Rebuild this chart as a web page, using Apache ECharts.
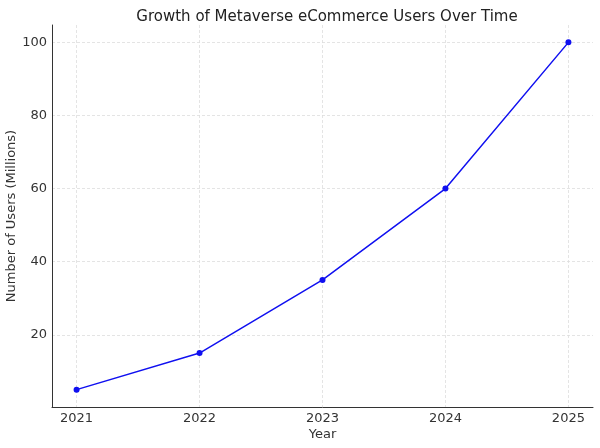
<!DOCTYPE html>
<html>
<head>
<meta charset="utf-8">
<script src="https://cdn.jsdelivr.net/npm/echarts@6/dist/echarts.min.js"></script>
<style>
    html, body { margin: 0; padding: 0; background: #fff; }
    #chart { width: 600px; height: 448px; }
</style>
</head>
<body>
<div id="chart"></div>
<script>
var years = [2021, 2022, 2023, 2024, 2025];
var users = [5, 15, 35, 60, 100];
var yTicks = [20, 40, 60, 80, 100];

var chartDom = document.getElementById('chart');
var myChart = echarts.init(chartDom);
var option;

var font = 'DejaVu Sans';

option = {
    animation: false,
    title: {
        text: 'Growth of Metaverse eCommerce Users Over Time',
        left: 322,
        top: 5,
        textAlign: 'center',
        textStyle: { fontFamily: font, fontSize: 15, fontWeight: 'normal', color: '#222' }
    },
    grid: { left: 52, right: 7, top: 25, bottom: 41, containLabel: false, outerBoundsMode: 'none' },
    xAxis: {
        type: 'value',
        min: 2020.8,
        max: 2025.2,
        name: 'Year',
        nameLocation: 'middle',
        nameGap: 21,
        nameMoveOverlap: false,
        nameTextStyle: { fontFamily: font, fontSize: 13, color: '#333' },
        axisLine: { lineStyle: { color: '#333', width: 1 } },
        axisTick: { show: false, customValues: years },
        axisLabel: {
            customValues: years,
            fontFamily: font, fontSize: 13, color: '#333', margin: 5,
            formatter: function (v) { return String(v); }
        },
        splitLine: { show: true, lineStyle: { color: '#ddd', type: [3, 2], width: 0.8 } }
    },
    yAxis: {
        type: 'value',
        min: 0.25,
        max: 104.75,
        name: 'Number of Users (Millions)',
        nameLocation: 'middle',
        nameGap: 34,
        nameMoveOverlap: false,
        nameTextStyle: { fontFamily: font, fontSize: 13, color: '#333' },
        axisLine: { show: true, lineStyle: { color: '#333', width: 1 } },
        axisTick: { show: false, customValues: yTicks },
        axisLabel: {
            customValues: yTicks,
            fontFamily: font, fontSize: 13, color: '#333', margin: 5
        },
        splitLine: { show: true, lineStyle: { color: '#ddd', type: [3, 2], width: 0.8 } }
    },
    series: [{
        type: 'line',
        data: years.map(function (y, i) { return [y, users[i]]; }),
        color: '#1010f0',
        symbol: 'circle',
        symbolSize: 6,
        lineStyle: { width: 1.5, color: '#1010f0' },
        itemStyle: { color: '#1010f0' }
    }]
};

myChart.setOption(option);
</script>
</body>
</html>
